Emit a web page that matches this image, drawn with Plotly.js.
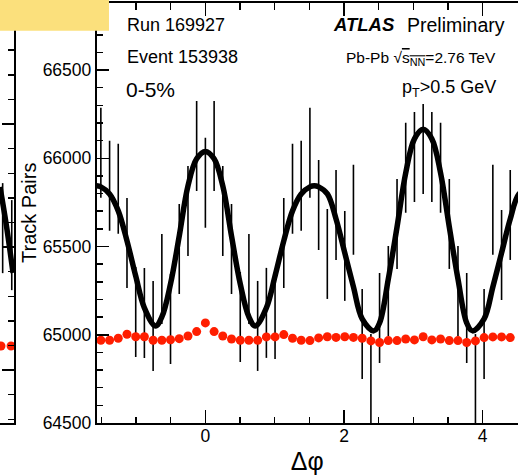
<!DOCTYPE html>
<html>
<head>
<meta charset="utf-8">
<script src="https://cdn.plot.ly/plotly-3.0.1.min.js"></script>
<style>html,body{margin:0;padding:0;background:#fff;overflow:hidden;}</style>
</head>
<body>
<div id="chart" style="width:518px;height:475px;"></div>
<script>
// ---- data ----
const binPhi = [-1.508,-1.382,-1.257,-1.131,-1.005,-0.880,-0.754,-0.628,-0.503,-0.377,-0.251,-0.126,0,0.126,0.251,0.377,0.503,0.628,0.754,0.880,1.005,1.131,1.257,1.382,1.508,1.634,1.759,1.885,2.011,2.136,2.262,2.388,2.513,2.639,2.765,2.890,3.016,3.142,3.267,3.393,3.519,3.644,3.770,3.896,4.021,4.147,4.273,4.398];
const eventPairs = [66031,65844,65827,65520,65129,65124,65050,65316,65090,65486,65702,66070,65861,66070,65702,65486,65101,65316,65050,65124,65118,65520,65827,65844,66031,65736,65458,65679,65447,65708,65005,64749,65095,65248,65628,65946,66008,66053,66008,65946,65628,65248,65095,64749,65005,65708,65452,65679];
const eventErr = [255,255,255,255,255,255,255,255,255,255,255,255,255,255,255,255,255,255,255,255,255,255,255,255,255,255,255,255,255,255,255,255,255,255,255,255,255,255,255,255,255,255,255,255,255,255,255,255];
const mixedPairs = [64969,64969,64980,65003,64989,64989,64969,64969,64972,64978,64993,65018,65067,65018,64993,64976,64969,64969,64969,64988,64988,65001,64980,64969,64967,64982,64989,64985,64989,64985,64980,64965,64956,64967,64967,64976,64971,64989,64971,64976,64967,64967,64956,64965,64984,64988,64988,64984];
const fitPhi = [-1.571,-1.508,-1.382,-1.257,-1.131,-1.005,-0.880,-0.720,-0.628,-0.503,-0.377,-0.251,-0.126,0,0.126,0.251,0.377,0.503,0.628,0.720,0.880,1.005,1.131,1.257,1.382,1.508,1.571,1.634,1.760,1.885,2.011,2.136,2.262,2.430,2.513,2.639,2.765,2.890,3.016,3.142,3.267,3.393,3.519,3.644,3.770,3.853,4.021,4.147,4.273,4.398,4.524,4.712];
const fitPairs = [65844,65838,65798,65702,65532,65333,65152,65050,65101,65288,65560,65844,65997,66039,65997,65844,65560,65288,65101,65050,65152,65333,65532,65702,65798,65838,65844,65838,65798,65656,65464,65271,65090,65022,65067,65316,65611,65917,66110,66164,66110,65917,65611,65316,65067,65022,65090,65271,65464,65656,65798,65844];
// neighbouring (cut-off) panel on the left
const sideFitX = [0, 0.45, 0.93];
const sideFitY = [65244, 65090, 64895];
const sideBarX = [0.19, 0.84];
const sideBarY = [65077, 65008];
const sideBarErr = [183, 183];
const sideMixX = [0.07, 0.79];
const sideMixY = [64598, 64598];
const xTickVals = [0, 2, 4];
const yTickVals = [64500, 65000, 65500, 66000, 66500];

const FONT = 'Liberation Sans, Arial, Helvetica, sans-serif';
const RED = '#ff1e00';

const traces = [
  {x: binPhi, y: eventPairs, type: 'scatter', mode: 'markers', xaxis: 'x', yaxis: 'y',
   marker: {size: 1, color: 'rgba(0,0,0,0)'},
   error_y: {type: 'data', array: eventErr, visible: true, color: '#000', thickness: 1.6, width: 0}},
  {x: fitPhi, y: fitPairs, type: 'scatter', mode: 'lines', xaxis: 'x', yaxis: 'y',
   line: {color: '#000', width: 5.5, shape: 'spline', smoothing: 1}},
  {x: binPhi, y: mixedPairs, type: 'scatter', mode: 'markers', xaxis: 'x', yaxis: 'y',
   marker: {size: 9, color: RED, symbol: 'circle'}},
  {x: sideBarX, y: sideBarY, type: 'scatter', mode: 'markers', xaxis: 'x2', yaxis: 'y2',
   marker: {size: 1, color: 'rgba(0,0,0,0)'},
   error_y: {type: 'data', array: sideBarErr, visible: true, color: '#000', thickness: 1.6, width: 0}},
  {x: sideFitX, y: sideFitY, type: 'scatter', mode: 'lines', xaxis: 'x2', yaxis: 'y2',
   line: {color: '#000', width: 5.5, shape: 'spline'}},
  {x: sideMixX, y: sideMixY, type: 'scatter', mode: 'markers', xaxis: 'x2', yaxis: 'y2',
   marker: {size: 9, color: RED}}
];

const axBase = {showline: true, linecolor: '#000', linewidth: 1.7, showgrid: false, zeroline: false,
  ticks: 'inside', tickcolor: '#000', tickwidth: 1.5};

const layout = {
  width: 518, height: 475,
  margin: {l: 0, r: 0, t: 3, b: 52, pad: 0},
  paper_bgcolor: '#fff', plot_bgcolor: '#fff',
  showlegend: false,
  font: {family: FONT, color: '#000'},
  xaxis: Object.assign({}, axBase, {
    domain: [96.5/518, 1], anchor: 'y', range: [-1.5708, 4.51],
    mirror: 'ticks', ticklen: 13, tickmode: 'array', tickvals: xTickVals,
    minor: {dtick: 0.5, tick0: 0, ticks: 'inside', ticklen: 6.5, tickwidth: 1.5, tickcolor: '#000'},
    tickfont: {size: 17.5, family: FONT}, ticklabelstandoff: -4,
    title: {text: 'Δφ', font: {size: 25, family: FONT}, standoff: 10}
  }),
  yaxis: Object.assign({}, axBase, {
    domain: [0, 1], anchor: 'x', range: [64500, 66880],
    ticklen: 12, tickmode: 'array', tickvals: yTickVals, tickformat: 'd',
    minor: {dtick: 100, tick0: 0, ticks: 'inside', ticklen: 6, tickwidth: 1.5, tickcolor: '#000'},
    tickfont: {size: 17.5, family: FONT}
  }),
  xaxis2: Object.assign({}, axBase, {
    domain: [0, 14/518], anchor: 'y2', range: [0, 1], ticks: '', showticklabels: false
  }),
  yaxis2: Object.assign({}, axBase, {
    domain: [0, 1], anchor: 'x2', side: 'right', range: [64285, 65992],
    ticklen: 12, dtick: 500, tick0: 0, showticklabels: false,
    minor: {dtick: 100, tick0: 0, ticks: 'inside', ticklen: 6, tickwidth: 1.5, tickcolor: '#000'}
  }),
  shapes: [
    {type: 'rect', xref: 'paper', yref: 'paper', x0: -0.01, x1: 0.2104, y0: 0.934, y1: 1.02,
     fillcolor: '#fbe07c', line: {width: 0}, layer: 'above'}
  ],
  annotations: [
    {text: 'Track Pairs', x: 29/518, y: 0.5, xanchor: 'center', yanchor: 'middle', textangle: -90, font: {size: 20}},
    {text: 'Run 169927', x: 0.2408, y: 0.948, xanchor: 'left', yanchor: 'middle', font: {size: 18}},
    {text: 'Event 153938', x: 0.2408, y: 0.871, xanchor: 'left', yanchor: 'middle', font: {size: 18}},
    {text: '0-5%', x: 0.2390, y: 0.793, xanchor: 'left', yanchor: 'middle', font: {size: 21}},
    {text: '<b><i>ATLAS</i></b>', x: 0.6385, y: 0.948, xanchor: 'left', yanchor: 'middle', font: {size: 18.5}},
    {text: 'Preliminary', x: 0.979, y: 0.948, xanchor: 'right', yanchor: 'middle', font: {size: 19.5}},
    {text: 'Pb-Pb √<span style="text-decoration:overline">s<sub>NN</sub></span>=2.76 TeV', x: 0.962, y: 0.869, xanchor: 'right', yanchor: 'middle', font: {size: 15.5}},
    {text: 'p<sub>T</sub>&gt;0.5 GeV', x: 0.9615, y: 0.797, xanchor: 'right', yanchor: 'middle', font: {size: 18}}
  ].map(a => Object.assign({xref: 'paper', yref: 'paper', showarrow: false}, a,
        {font: Object.assign({family: FONT, color: '#000'}, a.font)}))
};

Plotly.newPlot('chart', traces, layout, {staticPlot: true, displayModeBar: false});
</script>
</body>
</html>
